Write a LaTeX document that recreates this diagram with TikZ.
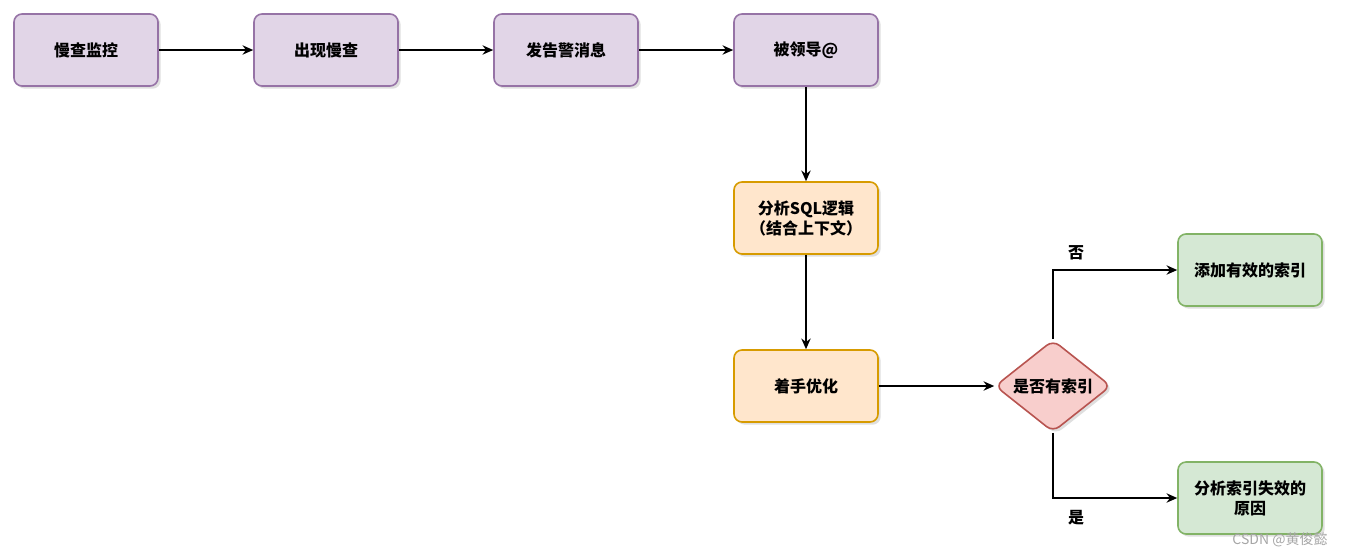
\documentclass[tikz,border=0pt]{standalone}
\usepackage{fontspec}
\setmainfont{Noto Sans CJK SC}
\usetikzlibrary{shapes.geometric,shadows,arrows.meta}
\begin{document}
\begin{tikzpicture}[x=0.75pt,y=-0.75pt,
  font=\bfseries\fontsize{12}{15}\selectfont,
  box/.style={rectangle,rounded corners=6pt,line width=1.2pt,minimum width=108pt,minimum height=54pt,align=center,drop shadow={shadow xshift=2pt,shadow yshift=-2pt,opacity=0.25}},
  pur/.style={box,fill={rgb,255:red,225;green,213;blue,231},draw={rgb,255:red,150;green,115;blue,166}},
  ora/.style={box,fill={rgb,255:red,255;green,230;blue,204},draw={rgb,255:red,215;green,155;blue,0}},
  grn/.style={box,fill={rgb,255:red,213;green,232;blue,212},draw={rgb,255:red,130;green,179;blue,102}},
  arr/.style={-{Stealth[length=8pt,width=7pt]},line width=1.3pt}]
\useasboundingbox (0,0) rectangle (1346,558);
\node[pur] (a) at (86,50) {慢查监控};
\node[pur] (b) at (326,50) {出现慢查};
\node[pur] (c) at (566,50) {发告警消息};
\node[pur] (d) at (806,50) {被领导@};
\node[ora] (e) at (806,218) {分析SQL逻辑\\（结合上下文）};
\node[ora] (f) at (806,386) {着手优化};
\node[diamond,aspect=1.26,inner sep=1pt,minimum width=87pt,minimum height=69pt,rounded corners=6pt,line width=1.2pt,
  fill={rgb,255:red,248;green,206;blue,204},draw={rgb,255:red,184;green,84;blue,80},
  drop shadow={shadow xshift=2pt,shadow yshift=-2pt,opacity=0.25}] (g) at (1053,386) {是否有索引};
\node[grn] (h) at (1250,270) {添加有效的索引};
\node[grn] (i) at (1250,498) {分析索引失效的\\原因};
\draw[arr] (a) -- (b);
\draw[arr] (b) -- (c);
\draw[arr] (c) -- (d);
\draw[arr] (d) -- (e);
\draw[arr] (e) -- (f);
\draw[arr] (f) -- (g);
\draw[arr] (g.north) |- (h);
\draw[arr] (g.south) |- (i);
\node (n1) at (1076,253) {否};
\node (n2) at (1076,518) {是};
\node[font=\fontsize{10.5}{12}\selectfont,text=black!35] (w) at (1280,540) {CSDN @黄俊懿};
\end{tikzpicture}
\end{document}
